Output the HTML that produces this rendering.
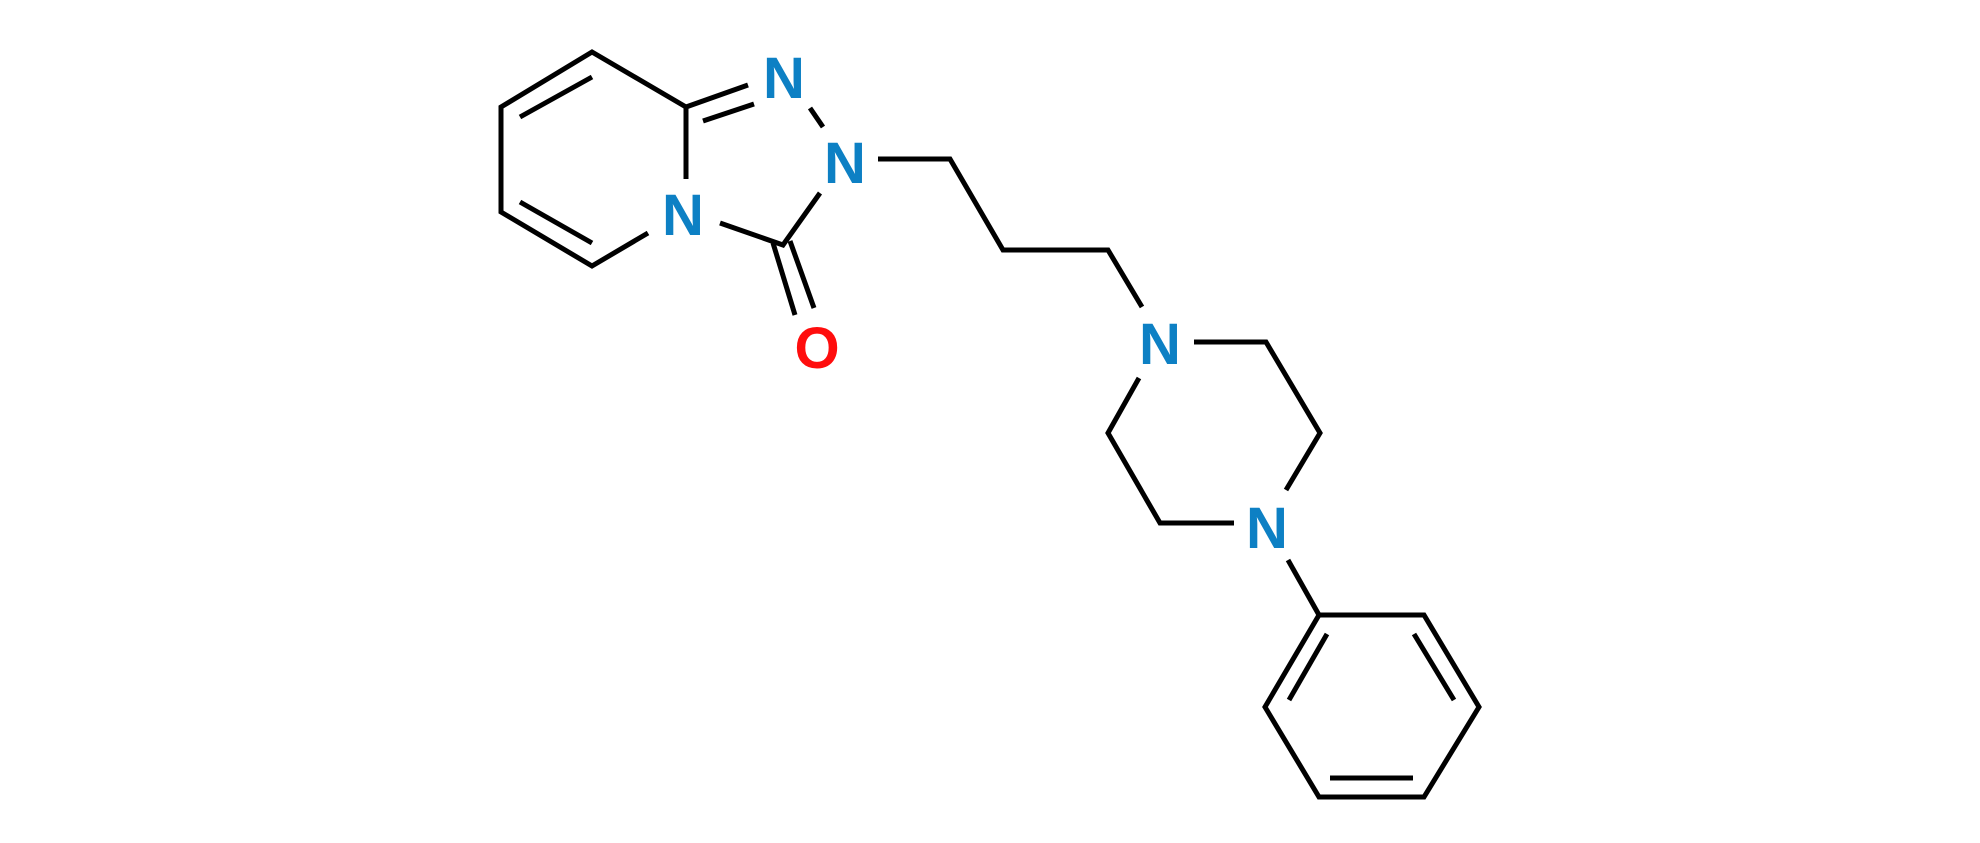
<!DOCTYPE html>
<html><head><style>html,body{margin:0;padding:0;background:#fff;}svg{display:block}</style></head>
<body>
<svg width="1980" height="843" viewBox="0 0 1980 843" xmlns="http://www.w3.org/2000/svg">
<g stroke="#000" stroke-width="5" fill="none" stroke-linecap="butt" stroke-linejoin="miter">
<polyline points="686,107 592,52 501,107 501,212 592,266 648,233"/>
<line x1="592" y1="77" x2="520" y2="117"/>
<line x1="520" y1="202" x2="592" y2="243"/>
<line x1="686" y1="107" x2="686" y2="179"/>
<line x1="686" y1="107" x2="748" y2="85"/>
<line x1="703" y1="121" x2="754" y2="104"/>
<line x1="810" y1="108" x2="823" y2="127"/>
<polyline points="720,223 783,245 820,193"/>
<line x1="773" y1="243" x2="795" y2="315"/>
<line x1="790" y1="241" x2="814" y2="308"/>
<polyline points="878,159 950,159 1003,250 1108,250 1142,307"/>
<polyline points="1194,342 1266,342 1320,433 1286,490"/>
<polyline points="1234,523 1160,523 1108,433 1139,378"/>
<line x1="1288" y1="560" x2="1319" y2="615"/>
<polygon points="1319,615 1424,615 1479,707 1424,797 1319,797 1265,707"/>
<line x1="1327" y1="634" x2="1289" y2="700"/>
<line x1="1414" y1="634" x2="1454" y2="700"/>
<line x1="1330" y1="778" x2="1413" y2="778"/>
</g>
<g font-family="Liberation Sans, sans-serif" font-weight="bold" font-size="58" text-anchor="middle" fill="#0d80c4">
<text x="784" y="98">N</text>
<text x="845" y="183">N</text>
<text x="683" y="235">N</text>
<text x="1160" y="364">N</text>
<text x="1267" y="548">N</text>
<text x="817" y="368" fill="#ff0d0d">O</text>
</g>
</svg>
</body></html>
